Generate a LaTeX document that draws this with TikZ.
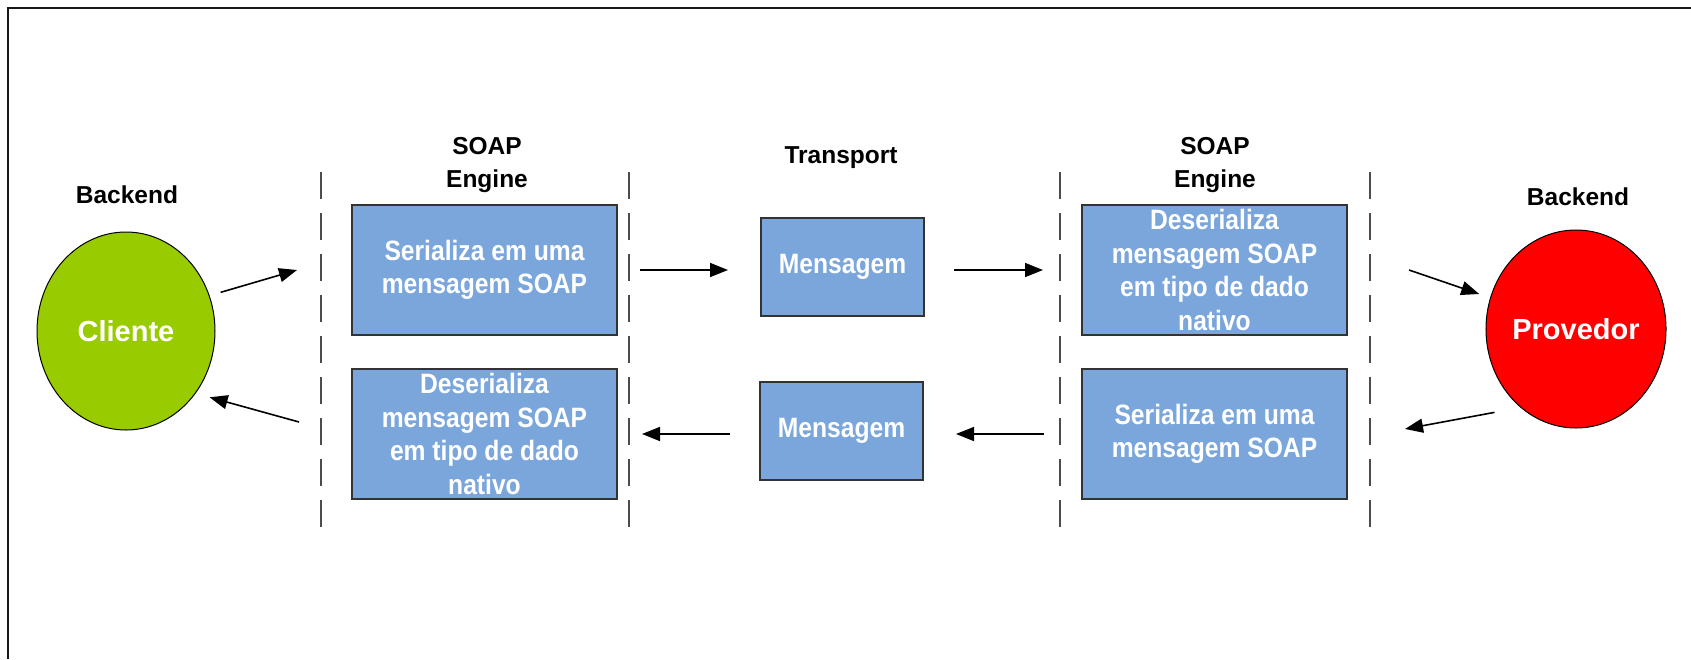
\documentclass[tikz,border=0pt]{standalone}
\usepackage{fontspec}
\setmainfont{Liberation Sans}
\newfontfamily\narrowfont{Liberation Sans}[FakeStretch=0.88]
\usetikzlibrary{positioning,shapes,arrows.meta}
\definecolor{boxblue}{RGB}{122,166,220}
\definecolor{backgreen}{RGB}{153,204,0}

\begin{document}
\begin{tikzpicture}[x=1pt,y=-1pt,layer/.style={font=\fontsize{24.5}{33}\selectfont\bfseries, align=center, inner sep=0pt},msgbox/.style={draw=black!80, line width=1.6pt, fill=boxblue, text=white, align=center, inner sep=0pt, outer sep=0pt, font=\narrowfont\fontsize{28}{33.5}\selectfont\bfseries},soapbox/.style={msgbox, minimum width=265, minimum height=130},backend/.style={draw, line width=1pt, shape=ellipse, minimum width=178, minimum height=198, inner sep=0pt, outer sep=0pt, text=white, font=\fontsize{29}{33}\selectfont\bfseries},sep/.style={draw=black!70, line width=1.5pt, dash pattern=on 27pt off 14pt},arr/.style={-{Triangle[length=18pt,width=14pt]}, line width=1.6pt}]
\useasboundingbox (0,0) rectangle (1691,659);
\draw[line width=2pt, black!90] (8,659) -- (8,8) -- (1691,8);

\node[backend, fill=backgreen] (cliente) at (126,331) {Cliente};
\node[backend, fill=red] (provedor) at (1576,329) {Provedor};
\node[soapbox] (ser1) at (484.5,270) {Serializa em uma\\mensagem SOAP};
\node[soapbox] (des1) at (484.5,434) {Deserializa\\mensagem SOAP\\em tipo de dado\\nativo};
\node[msgbox, minimum width=163, minimum height=98] (msg1) at (842.5,267) {Mensagem};
\node[msgbox, minimum width=163, minimum height=98] (msg2) at (841.5,431) {Mensagem};
\node[soapbox] (des2) at (1214.5,270) {Deserializa\\mensagem SOAP\\em tipo de dado\\nativo};
\node[soapbox] (ser2) at (1214.5,434) {Serializa em uma\\mensagem SOAP};

\node[layer] (back1) at (127,195) {Backend};
\node[layer] (back2) at (1578,197) {Backend};
\node[layer] (eng1) at (487,165) {SOAP\\Engine};
\node[layer] (eng2) at (1215,165) {SOAP\\Engine};
\node[layer] (trans) at (841,158) {Transport};

\foreach \x in {321,629,1060,1370}
  \draw[sep] (\x,172) -- (\x,533);

\coordinate (cin) at (297,270);
\coordinate (cout) at (299,422);
\coordinate (pin) at (1409,270);
\coordinate (pout) at (1405,429);

\draw[arr, shorten <=12pt] (cliente.23) -- (cin);
\draw[arr, shorten <=23pt, shorten >=33pt] (ser1.east) -- (ser1.east -| msg1.west);
\draw[arr, shorten <=30pt, shorten >=39pt] (msg1.east |- des2.west) -- (des2.west);
\draw[arr, shorten >=12pt] (pin) -- (provedor.160);
\draw[arr, shorten <=27pt] (provedor.235) -- (pout);
\draw[arr, shorten <=38pt, shorten >=33pt] (ser2.west) -- (ser2.west -| msg2.east);
\draw[arr, shorten <=30pt, shorten >=25pt] (msg2.west |- des1.east) -- (des1.east);
\draw[arr, shorten >=15pt] (cout) -- (cliente.-42);
\end{tikzpicture}
\end{document}
